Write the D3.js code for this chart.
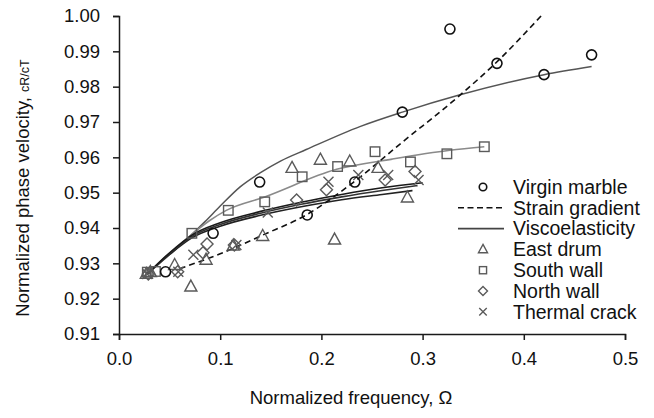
<!DOCTYPE html>
<html>
<head>
<meta charset="utf-8">
<script src="https://cdn.jsdelivr.net/npm/d3@7"></script>
<style>
  body { margin: 0; background: #fff; }
  text { font-family: "Liberation Sans", Arial, sans-serif; fill: #111; }
</style>
</head>
<body>
<div id="chart"></div>
<script>
const width = 654;
const height = 418;

// measured data
const virginX = [0.046, 0.093, 0.139, 0.186, 0.233, 0.280, 0.327, 0.3735, 0.420, 0.467];
const virginY = [0.9276, 0.9385, 0.953, 0.9437, 0.953, 0.9728, 0.9963, 0.9866, 0.9834, 0.989];

const eastX = [0.027, 0.031, 0.055, 0.071, 0.086, 0.113, 0.142, 0.171, 0.199, 0.213, 0.228, 0.256, 0.285];
const eastY = [0.927, 0.9275, 0.9295, 0.9234, 0.931, 0.935, 0.9377, 0.957, 0.9593, 0.9367, 0.9588, 0.957, 0.9486];

const southX = [0.028, 0.036, 0.072, 0.108, 0.144, 0.181, 0.216, 0.253, 0.288, 0.324, 0.361];
const southY = [0.9275, 0.9277, 0.9385, 0.945, 0.9474, 0.9545, 0.9574, 0.9616, 0.9587, 0.961, 0.963];

const northX = [0.029, 0.058, 0.083, 0.087, 0.114, 0.1755, 0.205, 0.263, 0.2925];
const northY = [0.927, 0.9276, 0.933, 0.9355, 0.9352, 0.9479, 0.9508, 0.9536, 0.956];

const thermalX = [0.028, 0.0586, 0.0735, 0.116, 0.147, 0.207, 0.2365, 0.266, 0.296];
const thermalY = [0.927, 0.9276, 0.9324, 0.9352, 0.9444, 0.9531, 0.955, 0.955, 0.9536];

// model curves
const strainX = [0.06, 0.1, 0.142, 0.185, 0.231, 0.28, 0.337, 0.373, 0.418];
const strainY = [0.9285, 0.9327, 0.938, 0.9437, 0.9528, 0.9643, 0.9776, 0.9869, 1.0003];

const viscoVirginX = [0.028, 0.05, 0.072, 0.085, 0.10, 0.12, 0.139, 0.16, 0.185, 0.238, 0.28, 0.337, 0.42, 0.467];
const viscoVirginY = [0.927, 0.9325, 0.9382, 0.9418, 0.9462, 0.9517, 0.9555, 0.959, 0.9622, 0.9687, 0.9728, 0.9777, 0.9834, 0.9857];

const viscoSouthX = [0.028, 0.05, 0.072, 0.09, 0.106, 0.144, 0.215, 0.27, 0.327, 0.361];
const viscoSouthY = [0.927, 0.9325, 0.9382, 0.9422, 0.945, 0.9488, 0.9566, 0.9595, 0.962, 0.963];

const viscoEastX = [0.028, 0.05, 0.072, 0.1, 0.14, 0.18, 0.22, 0.26, 0.29];
const viscoEastY = [0.927, 0.9325, 0.9372, 0.9405, 0.9436, 0.946, 0.948, 0.9495, 0.9506];

const viscoNorthX = [0.028, 0.05, 0.072, 0.1, 0.14, 0.18, 0.22, 0.26, 0.295];
const viscoNorthY = [0.927, 0.9328, 0.9376, 0.941, 0.9442, 0.9467, 0.9488, 0.9506, 0.952];

const viscoThermalX = [0.028, 0.05, 0.072, 0.1, 0.14, 0.18, 0.22, 0.26, 0.30];
const viscoThermalY = [0.927, 0.933, 0.938, 0.9415, 0.9447, 0.9473, 0.9495, 0.9514, 0.9528];

const xTicks = [0.0, 0.1, 0.2, 0.3, 0.4, 0.5];
const yTicks = [0.91, 0.92, 0.93, 0.94, 0.95, 0.96, 0.97, 0.98, 0.99, 1.00];

const legendLabels = ["Virgin marble", "Strain gradient", "Viscoelasticity", "East drum", "South wall", "North wall", "Thermal crack"];
const legendKinds = ["circle", "dash", "line", "triangle", "square", "diamond", "cross"];

const zip = (xs, ys) => xs.map((x, i) => [x, ys[i]]);

const svg = d3.select("#chart")
    .append("svg")
    .attr("width", width)
    .attr("height", height);

const x = d3.scaleLinear().domain([0, 0.5]).range([119, 625]);
const y = d3.scaleLinear().domain([0.91, 1.00]).range([334, 16]);

const line = d3.line()
    .x(d => x(d[0]))
    .y(d => y(d[1]))
    .curve(d3.curveMonotoneX);

// axes
const xAxis = svg.append("g")
    .attr("transform", `translate(0,${y(0.91)})`)
    .call(d3.axisBottom(x).tickValues(xTicks).tickFormat(d3.format(".1f")).tickSize(6).tickPadding(12));
const yAxis = svg.append("g")
    .attr("transform", `translate(${x(0)},0)`)
    .call(d3.axisLeft(y).tickValues(yTicks).tickFormat(d3.format(".2f")).tickSize(6).tickPadding(13));

[xAxis, yAxis].forEach(g => {
    g.selectAll("path, line").attr("stroke", "#1a1a1a").attr("stroke-width", 1.5);
    g.selectAll("text").style("font-size", "18.5px").style("font-family", "'Liberation Sans', Arial, sans-serif").attr("fill", "#111");
});

svg.append("text")
    .attr("x", 351)
    .attr("y", 398)
    .attr("text-anchor", "middle")
    .attr("dy", "0.35em")
    .style("font-size", "18.5px")
    .text("Normalized frequency, Ω");

const yTitle = svg.append("text")
    .attr("transform", "translate(23,188) rotate(-90)")
    .attr("text-anchor", "middle")
    .attr("dy", "0.35em")
    .style("font-size", "18.5px");
yTitle.append("tspan").text("Normalized phase velocity, ");
yTitle.append("tspan").style("font-size", "12.5px").text("cR/cT");

// curves
const curves = [
    { xs: viscoVirginX, ys: viscoVirginY, color: "#555", w: 1.5, dash: null },
    { xs: viscoSouthX, ys: viscoSouthY, color: "#8a8a8a", w: 1.6, dash: null },
    { xs: viscoEastX, ys: viscoEastY, color: "#222", w: 1.6, dash: null },
    { xs: viscoNorthX, ys: viscoNorthY, color: "#333", w: 1.6, dash: null },
    { xs: viscoThermalX, ys: viscoThermalY, color: "#1a1a1a", w: 1.6, dash: null },
    { xs: strainX, ys: strainY, color: "#111", w: 1.6, dash: "6,4" }
];

svg.append("g")
    .selectAll("path")
    .data(curves)
    .join("path")
    .attr("d", d => line(zip(d.xs, d.ys)))
    .attr("fill", "none")
    .attr("stroke", d => d.color)
    .attr("stroke-width", d => d.w)
    .attr("stroke-dasharray", d => d.dash);

// marker shapes
function marker(g, kind, cx, cy, s) {
    const gray = "#5a5a5a";
    if (kind === "circle") {
        g.append("circle").attr("cx", cx).attr("cy", cy).attr("r", 5 * s)
            .attr("fill", "none").attr("stroke", "#111").attr("stroke-width", 1.6);
    } else if (kind === "triangle") {
        const h = 11 * s;
        g.append("path")
            .attr("d", `M${cx},${cy - h * 0.6}L${cx + h * 0.55},${cy + h * 0.4}L${cx - h * 0.55},${cy + h * 0.4}Z`)
            .attr("fill", "none").attr("stroke", gray).attr("stroke-width", 1.4);
    } else if (kind === "square") {
        const a = 9.5 * s;
        g.append("rect").attr("x", cx - a / 2).attr("y", cy - a / 2).attr("width", a).attr("height", a)
            .attr("fill", "none").attr("stroke", gray).attr("stroke-width", 1.4);
    } else if (kind === "diamond") {
        const a = 6 * s;
        g.append("path")
            .attr("d", `M${cx},${cy - a}L${cx + a},${cy}L${cx},${cy + a}L${cx - a},${cy}Z`)
            .attr("fill", "none").attr("stroke", gray).attr("stroke-width", 1.4);
    } else if (kind === "cross") {
        const a = 5 * s;
        g.append("path")
            .attr("d", `M${cx - a},${cy - a}L${cx + a},${cy + a}M${cx - a},${cy + a}L${cx + a},${cy - a}`)
            .attr("fill", "none").attr("stroke", gray).attr("stroke-width", 1.4);
    }
}

const series = [
    { xs: eastX, ys: eastY, kind: "triangle" },
    { xs: southX, ys: southY, kind: "square" },
    { xs: northX, ys: northY, kind: "diamond" },
    { xs: thermalX, ys: thermalY, kind: "cross" },
    { xs: virginX, ys: virginY, kind: "circle" }
];

const marks = svg.append("g");
series.forEach(s => {
    zip(s.xs, s.ys).forEach(p => marker(marks, s.kind, x(p[0]), y(p[1]), 1));
});

// legend
const legend = svg.append("g");
legendLabels.forEach((label, i) => {
    const ly = 187 + i * 20.8;
    const kind = legendKinds[i];
    if (kind === "dash" || kind === "line") {
        legend.append("line")
            .attr("x1", 458).attr("x2", 504).attr("y1", ly).attr("y2", ly)
            .attr("stroke", kind === "dash" ? "#111" : "#444")
            .attr("stroke-width", 1.6)
            .attr("stroke-dasharray", kind === "dash" ? "6,3.5" : null);
    } else {
        marker(legend, kind, 483, ly, 0.75);
    }
    legend.append("text")
        .attr("x", 513)
        .attr("y", ly)
        .attr("dy", "0.35em")
        .style("font-size", "19.5px")
        .text(label);
});
</script>
</body>
</html>
